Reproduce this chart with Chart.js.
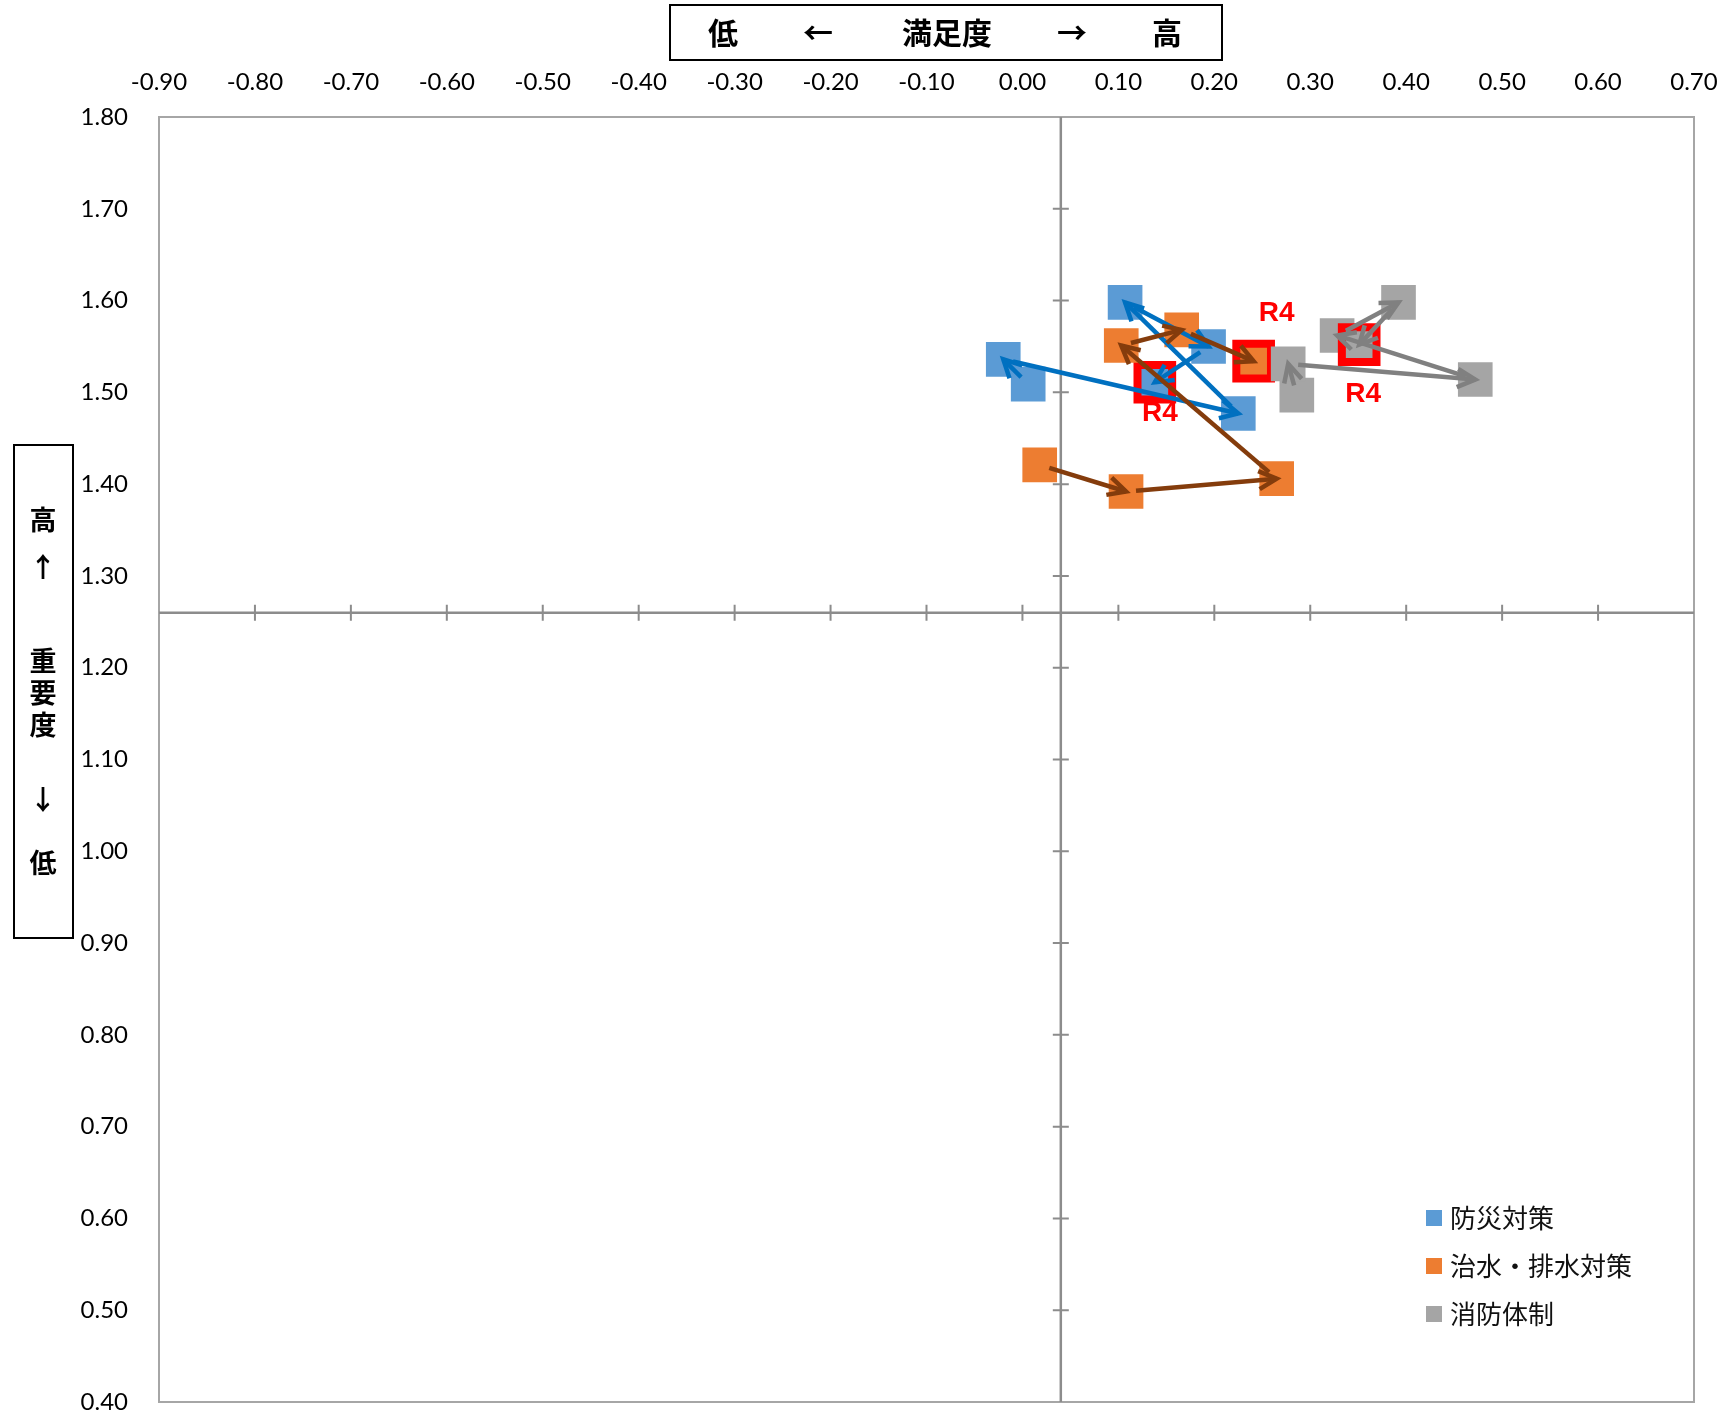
<!DOCTYPE html>
<html>
<head>
<meta charset="utf-8">
<script src="https://cdn.jsdelivr.net/npm/chart.js@4.4.0/dist/chart.umd.min.js"></script>
<style>
  html, body { margin: 0; padding: 0; background: #fff; overflow: hidden; }
  canvas { display: block; }
</style>
</head>
<body>
<canvas id="matrix" width="1721" height="1419"></canvas>
<script>
var seriesNames = ['防災対策', '治水・排水対策', '消防体制'];

// satisfaction (x) / importance (y), oldest survey first, last one is R4
var bousaiX = [0.006, -0.020, 0.225, 0.107, 0.194, 0.138];
var bousaiY = [1.509, 1.536, 1.477, 1.598, 1.550, 1.511];
var chisuiX = [0.018, 0.108, 0.265, 0.103, 0.166, 0.241];
var chisuiY = [1.421, 1.392, 1.406, 1.551, 1.568, 1.534];
var shoubouX = [0.286, 0.277, 0.472, 0.328, 0.392, 0.351];
var shoubouY = [1.497, 1.531, 1.514, 1.562, 1.598, 1.552];

var latestLabel = 'R4';
// averages where the quadrant lines cross
var crossX = 0.04;
var crossY = 1.26;

var xRange = [-0.9, 0.7];
var yRange = [0.4, 1.8];

var markerColors = ['#5B9BD5', '#ED7D31', '#A5A5A5'];
var arrowColors = ['#0070C0', '#843C0C', '#808080'];

function toPoints(xs, ys) {
  var pts = [];
  for (var i = 0; i < xs.length; i++) pts.push({x: xs[i], y: ys[i]});
  return pts;
}

function markerSet(idx, xs, ys) {
  var last = xs.length - 1;
  var borderCols = [], borderW = [];
  for (var i = 0; i < xs.length; i++) {
    borderCols.push(i == last ? '#FF0000' : markerColors[idx]);
    borderW.push(i == last ? 8 : 0);
  }
  return {
    label: seriesNames[idx],
    data: toPoints(xs, ys),
    pointStyle: 'rect',
    pointRadius: 24.5,
    backgroundColor: markerColors[idx],
    pointBackgroundColor: markerColors[idx],
    pointBorderColor: borderCols,
    pointBorderWidth: borderW,
    arrowColor: arrowColors[idx],
    order: 2 - idx
  };
}

// R4 label offsets from the point, in px
var labelOffsets = [[5, 31], [23, -48], [4, 50]];

function arrow(ctx, x1, y1, x2, y2) {
  var ang = Math.atan2(y2 - y1, x2 - x1);
  var sx = x1 + Math.cos(ang) * 10, sy = y1 + Math.sin(ang) * 10;
  ctx.beginPath();
  ctx.moveTo(sx, sy);
  ctx.lineTo(x2, y2);
  ctx.stroke();
  var hl = 20, ha = 0.47;
  ctx.beginPath();
  ctx.moveTo(x2 - hl * Math.cos(ang - ha), y2 - hl * Math.sin(ang - ha));
  ctx.lineTo(x2, y2);
  ctx.lineTo(x2 - hl * Math.cos(ang + ha), y2 - hl * Math.sin(ang + ha));
  ctx.stroke();
}

var decor = {
  id: 'decor',
  beforeDatasetsDraw: function(chart) {
    var ctx = chart.ctx, a = chart.chartArea;
    var sx = chart.scales.x, sy = chart.scales.y;
    ctx.save();
    ctx.strokeStyle = '#a6a6a6';
    ctx.lineWidth = 2;
    ctx.strokeRect(a.left, a.top, a.right - a.left, a.bottom - a.top);

    var cx = sx.getPixelForValue(crossX), cy = sy.getPixelForValue(crossY);
    ctx.strokeStyle = '#8c8c8c';
    ctx.lineWidth = 2.5;
    ctx.beginPath();
    ctx.moveTo(a.left, cy); ctx.lineTo(a.right, cy);
    ctx.moveTo(cx, a.top); ctx.lineTo(cx, a.bottom);
    ctx.stroke();
    ctx.lineWidth = 2;
    ctx.beginPath();
    sx.ticks.forEach(function(t) {
      var px = sx.getPixelForValue(t.value);
      if (px > a.left + 2 && px < a.right - 2) { ctx.moveTo(px, cy - 8); ctx.lineTo(px, cy + 8); }
    });
    sy.ticks.forEach(function(t) {
      var py = sy.getPixelForValue(t.value);
      if (py > a.top + 2 && py < a.bottom - 2) { ctx.moveTo(cx - 8, py); ctx.lineTo(cx + 8, py); }
    });
    ctx.stroke();
    ctx.restore();
  },
  afterDatasetsDraw: function(chart) {
    var ctx = chart.ctx;
    ctx.save();
    ctx.lineWidth = 4.5;
    chart.data.datasets.forEach(function(ds, i) {
      var pts = chart.getDatasetMeta(i).data;
      ctx.strokeStyle = ds.arrowColor;
      for (var j = 0; j < pts.length - 1; j++) {
        arrow(ctx, pts[j].x, pts[j].y, pts[j + 1].x, pts[j + 1].y);
      }
    });
    ctx.fillStyle = '#FF0000';
    ctx.font = 'bold 28px "Liberation Sans", Arial, sans-serif';
    ctx.textAlign = 'center';
    ctx.textBaseline = 'middle';
    chart.data.datasets.forEach(function(ds, i) {
      var pts = chart.getDatasetMeta(i).data;
      var p = pts[pts.length - 1];
      ctx.fillText(latestLabel, p.x + labelOffsets[i][0], p.y + labelOffsets[i][1]);
    });
    ctx.restore();
  },
  afterDraw: function(chart) {
    var ctx = chart.ctx;
    ctx.save();
    ctx.strokeStyle = '#000';
    ctx.lineWidth = 2;
    ctx.strokeRect(670, 5, 552, 55);
    ctx.strokeRect(14, 445, 59, 493);
    ctx.fillStyle = '#000';
    ctx.textAlign = 'center';
    ctx.textBaseline = 'middle';
    ctx.font = 'bold 30px "Noto Sans CJK JP", sans-serif';
    var top = [['低', 723], ['←', 818], ['満足度', 947], ['→', 1072], ['高', 1167]];
    top.forEach(function(t) { ctx.fillText(t[0], t[1], 33); });
    ctx.font = 'bold 27px "Noto Sans CJK JP", sans-serif';
    var side = [['高', 520], ['↑', 567], ['重', 661], ['要', 693], ['度', 725], ['↓', 800], ['低', 863]];
    side.forEach(function(t) { ctx.fillText(t[0], 43, t[1]); });

    // legend
    ctx.font = '26px "Noto Sans CJK JP", sans-serif';
    ctx.textAlign = 'left';
    chart.data.datasets.forEach(function(ds, i) {
      var y = 1218 + i * 48;
      ctx.fillStyle = ds.backgroundColor;
      ctx.fillRect(1426, y - 8, 16, 16);
      ctx.fillStyle = '#111';
      ctx.fillText(ds.label, 1450, y);
    });
    ctx.restore();
  }
};

var tickFont = {family: 'Lato', size: 24};

new Chart(document.getElementById('matrix'), {
  type: 'scatter',
  data: {
    datasets: [
      markerSet(0, bousaiX, bousaiY),
      markerSet(1, chisuiX, chisuiY),
      markerSet(2, shoubouX, shoubouY)
    ]
  },
  options: {
    responsive: false,
    animation: false,
    devicePixelRatio: 1,
    events: [],
    // big markers would otherwise push the plot area in
    layout: {autoPadding: false, padding: {left: 0, top: 0, right: 27, bottom: 17}},
    plugins: {legend: {display: false}, tooltip: {enabled: false}},
    scales: {
      x: {
        type: 'linear',
        position: 'top',
        min: xRange[0],
        max: xRange[1],
        // tick marks are hidden, tickLength only sets the label gap
        grid: {display: false, drawTicks: true, tickLength: 20},
        border: {display: false},
        ticks: {
          stepSize: 0.1, autoSkip: false, maxRotation: 0, padding: 0,
          color: '#000', font: tickFont,
          callback: function(v) { return v.toFixed(2); }
        },
        afterFit: function(s) { s.height = 117; s.paddingLeft = 0; s.paddingRight = 0; }
      },
      y: {
        type: 'linear',
        position: 'left',
        min: yRange[0],
        max: yRange[1],
        grid: {display: false, drawTicks: true, tickLength: 31},
        border: {display: false},
        ticks: {
          stepSize: 0.1, autoSkip: false, padding: 0,
          color: '#000', font: tickFont,
          callback: function(v) { return v.toFixed(2); }
        },
        afterFit: function(s) { s.width = 159; s.paddingTop = 0; s.paddingBottom = 0; }
      }
    }
  },
  plugins: [decor]
});
</script>
</body>
</html>
